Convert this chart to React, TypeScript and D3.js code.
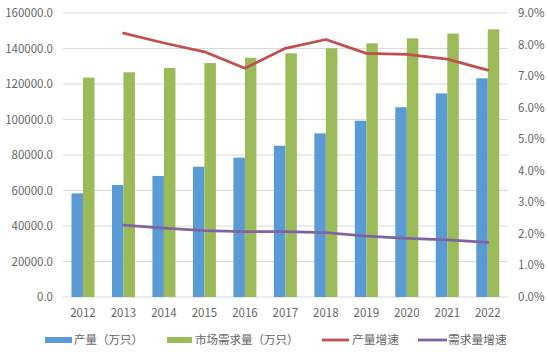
import React from "react";
import * as d3 from "d3";

const years = ["2012", "2013", "2014", "2015", "2016", "2017", "2018", "2019", "2020", "2021", "2022"];
const production = [58400, 63100, 68200, 73400, 78500, 85200, 92200, 99300, 106900, 114700, 123200];
const demand = [123600, 126600, 129000, 131800, 134800, 137300, 140100, 142900, 145700, 148400, 150800];
const prodGrowth = [null, 8.36, 8.05, 7.77, 7.25, 7.88, 8.16, 7.72, 7.69, 7.54, 7.19];
const demandGrowth = [null, 2.28, 2.18, 2.1, 2.07, 2.07, 2.04, 1.93, 1.86, 1.81, 1.73];
const leftTicks = [0, 20000, 40000, 60000, 80000, 100000, 120000, 140000, 160000];
const rightTicks = [0, 1, 2, 3, 4, 5, 6, 7, 8, 9];
const seriesNames = ["产量（万只）", "市场需求量（万只）", "产量增速", "需求量增速"];

const W = 548, H = 357;
const left = 62.75, right = 508, top = 13, bottom = 297;
const font = "'Noto Sans CJK SC', 'Noto Sans', sans-serif";
const BLUE = "#5B9BD5", GREEN = "#9BBB59", RED = "#C0504D", PURPLE = "#8064A2";
const TXT = "#666666";

export default function App() {
  const x = d3.scaleBand<string>().domain(years).range([left, right]);
  const yL = d3.scaleLinear().domain([0, 160000]).range([bottom, top]);
  const yR = d3.scaleLinear().domain([0, 9]).range([bottom, top]);
  const bw = 11.5;
  const cx = (y: string) => (x(y) as number) + x.bandwidth() / 2;
  const line = d3
    .line<number | null>()
    .defined((d) => d != null)
    .x((_, i) => cx(years[i]))
    .y((d) => yR(d as number));

  return (
    <svg width={W} height={H} style={{ position: "absolute", left: 0, top: 0, background: "#fff" }}>
      {leftTicks.map((t) => (
        <line key={t} x1={left} x2={right} y1={yL(t)} y2={yL(t)} stroke="#D9D9D9" strokeWidth={1} />
      ))}
      {leftTicks.map((t) => (
        <text key={"l" + t} x={53} y={yL(t)} dy="0.35em" textAnchor="end" fontSize={11.5} fill={TXT} fontFamily={font}>
          {t.toFixed(1)}
        </text>
      ))}
      {rightTicks.map((t) => (
        <text key={"r" + t} x={518} y={yR(t)} dy="0.35em" textAnchor="start" fontSize={11.5} fill={TXT} fontFamily={font}>
          {t.toFixed(1) + "%"}
        </text>
      ))}
      {years.map((y, i) => (
        <g key={y}>
          <rect x={cx(y) - bw} y={yL(production[i])} width={bw} height={bottom - yL(production[i])} fill={BLUE} />
          <rect x={cx(y)} y={yL(demand[i])} width={bw} height={bottom - yL(demand[i])} fill={GREEN} />
          <text x={cx(y)} y={313} dy="0.35em" textAnchor="middle" fontSize={11.5} fill={TXT} fontFamily={font}>
            {y}
          </text>
        </g>
      ))}
      <path d={line(prodGrowth) || ""} fill="none" stroke={RED} strokeWidth={2.75} strokeLinecap="round" strokeLinejoin="round" />
      <path d={line(demandGrowth) || ""} fill="none" stroke={PURPLE} strokeWidth={2.75} strokeLinecap="round" strokeLinejoin="round" />
      {/* legend */}
      <rect x={45} y={337} width={27} height={6} fill={BLUE} />
      <text x={74} y={340} dy="0.35em" fontSize={11.5} fill={TXT} fontFamily={font}>{seriesNames[0]}</text>
      <rect x={167} y={337} width={25} height={6} fill={GREEN} />
      <text x={195} y={340} dy="0.35em" fontSize={11.5} fill={TXT} fontFamily={font}>{seriesNames[1]}</text>
      <line x1={322} x2={349} y1={340} y2={340} stroke={RED} strokeWidth={2.75} />
      <text x={352} y={340} dy="0.35em" fontSize={11.75} fill={TXT} fontFamily={font}>{seriesNames[2]}</text>
      <line x1={418} x2={447} y1={340} y2={340} stroke={PURPLE} strokeWidth={2.75} />
      <text x={448} y={340} dy="0.35em" fontSize={11.75} fill={TXT} fontFamily={font}>{seriesNames[3]}</text>
    </svg>
  );
}
